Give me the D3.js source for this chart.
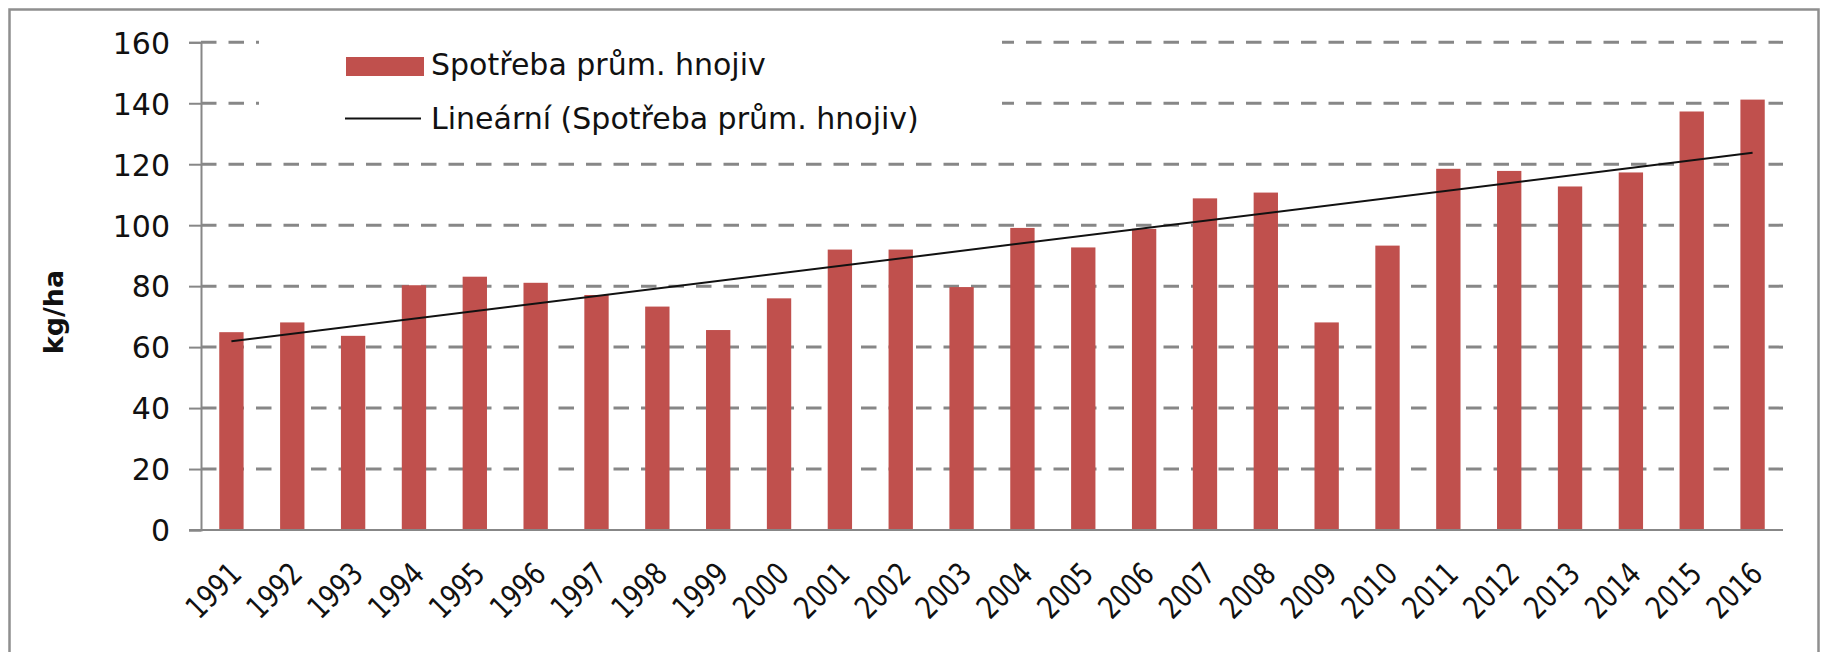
<!DOCTYPE html>
<html>
<head>
<meta charset="utf-8">
<script src="https://cdn.jsdelivr.net/npm/d3@7"></script>
<style>
  html, body { margin: 0; padding: 0; background: #ffffff; }
  svg { display: block; font-family: "DejaVu Sans", sans-serif; }
</style>
</head>
<body>
<svg id="chart" width="1823" height="652"></svg>
<script>
// ---- data ----
const years = ["1991","1992","1993","1994","1995","1996","1997","1998","1999","2000",
               "2001","2002","2003","2004","2005","2006","2007","2008","2009","2010",
               "2011","2012","2013","2014","2015","2016"];
const consumption = [64.9, 68.1, 63.7, 80.3, 83.1, 81.1, 77.1, 73.3, 65.6, 76.0,
                     92.0, 92.0, 79.7, 99.1, 92.7, 98.8, 108.8, 110.7, 68.1, 93.3,
                     118.5, 117.8, 112.7, 117.3, 137.3, 141.2];
const yTickValues = [0, 20, 40, 60, 80, 100, 120, 140, 160];
const seriesLabel = "Spotřeba prům. hnojiv";
const trendLabel = "Lineární (Spotřeba prům. hnojiv)";
const yAxisTitle = "kg/ha";

// ---- layout ----
const svg = d3.select("#chart");
const plot = { left: 201, right: 1783, top: 42.3, bottom: 530 };
const gridColor = "#878787";
const barColor = "#C0504D";
const fontSize = 30;

const x = d3.scaleBand().domain(years).range([plot.left, plot.right])
  .paddingInner(0.6).paddingOuter(0.3);
const y = d3.scaleLinear().domain([0, 160]).range([plot.bottom, plot.top]);
const center = d => x(d) + x.bandwidth() / 2;

// outer frame
svg.append("rect")
  .attr("x", 9.5).attr("y", 9.5).attr("width", 1809).attr("height", 720)
  .attr("fill", "#fff").attr("stroke", "#8f8f8f").attr("stroke-width", 2.5);

// gridlines (dashed)
svg.append("g").selectAll("line")
  .data(yTickValues.filter(v => v > 0))
  .join("line")
  .attr("x1", plot.left).attr("x2", plot.right)
  .attr("y1", d => y(d)).attr("y2", d => y(d))
  .attr("stroke", gridColor).attr("stroke-width", 3)
  .attr("stroke-dasharray", "15.5 12");

// bars
svg.append("g").selectAll("rect")
  .data(years.map((yr, i) => ({ yr, v: consumption[i] })))
  .join("rect")
  .attr("x", d => x(d.yr))
  .attr("width", x.bandwidth())
  .attr("y", d => y(d.v))
  .attr("height", d => y(0) - y(d.v))
  .attr("fill", barColor);

// y axis
const yAxis = d3.axisLeft(y).tickValues(yTickValues).tickSize(12).tickPadding(19);
const gy = svg.append("g").attr("transform", `translate(${plot.left},0)`).call(yAxis);
gy.select(".domain").attr("stroke", gridColor).attr("stroke-width", 2);
gy.selectAll(".tick line").attr("stroke", gridColor).attr("stroke-width", 2);
gy.selectAll(".tick text")
  .attr("font-size", fontSize).attr("font-family", "DejaVu Sans, sans-serif")
  .attr("fill", "#111").attr("dy", "0.36em");

// x axis baseline
const xAxis = d3.axisBottom(x).tickSize(0).tickFormat("");
const gx = svg.append("g").attr("transform", `translate(0,${plot.bottom})`).call(xAxis);
gx.select(".domain").attr("stroke", gridColor).attr("stroke-width", 2)
  .attr("d", `M${plot.left - 12},0H${plot.right}`);

// x labels rotated (slightly condensed along the text direction)
svg.append("g").selectAll("text")
  .data(years)
  .join("text")
  .attr("transform", d => `translate(${center(d) + 4},568) rotate(-45) scale(0.8,1)`)
  .attr("text-anchor", "end")
  .attr("dy", "0.36em")
  .attr("font-size", 31)
  .attr("fill", "#111")
  .text(d => d);

// y axis title
svg.append("text")
  .attr("transform", "translate(62.5,312) rotate(-90)")
  .attr("text-anchor", "middle")
  .attr("font-size", 27)
  .attr("font-weight", "bold")
  .attr("fill", "#111")
  .text(yAxisTitle);

// linear trend (least squares over category index)
const n = consumption.length;
const xs = d3.range(n);
const mx = d3.mean(xs), my = d3.mean(consumption);
const sxy = d3.sum(xs, i => (i - mx) * (consumption[i] - my));
const sxx = d3.sum(xs, i => (i - mx) * (i - mx));
const slope = sxy / sxx, intercept = my - slope * mx;
const trendPts = [0, n - 1].map(i => [center(years[i]), y(intercept + slope * i)]);
svg.append("path")
  .attr("d", d3.line()(trendPts))
  .attr("stroke", "#111").attr("stroke-width", 2).attr("fill", "none");

// legend
const lg = svg.append("g");
lg.append("rect").attr("x", 259).attr("y", 26).attr("width", 743).attr("height", 122)
  .attr("fill", "#fff");
lg.append("rect").attr("x", 346).attr("y", 57).attr("width", 78).attr("height", 19)
  .attr("fill", barColor);
lg.append("text").attr("x", 431).attr("y", 75).attr("font-size", fontSize)
  .attr("fill", "#111").text(seriesLabel);
lg.append("line").attr("x1", 345).attr("x2", 421).attr("y1", 118.5).attr("y2", 118.5)
  .attr("stroke", "#111").attr("stroke-width", 2);
lg.append("text").attr("x", 431).attr("y", 129).attr("font-size", fontSize)
  .attr("fill", "#111").text(trendLabel);
</script>
</body>
</html>
